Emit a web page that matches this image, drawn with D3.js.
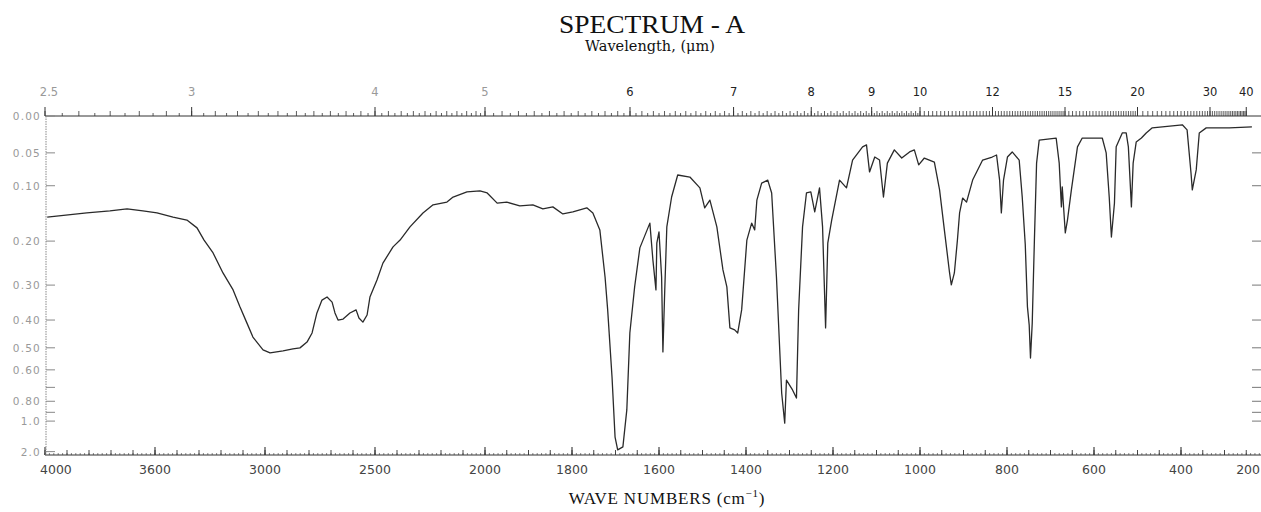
<!DOCTYPE html>
<html>
<head>
<meta charset="utf-8">
<script src="https://cdn.jsdelivr.net/npm/d3@7"></script>
<style>
  html, body { margin: 0; padding: 0; background: #fff; }
  svg { display: block; }
</style>
</head>
<body>
<svg width="1261" height="512"></svg>
<script>
// spectrum: wave number (cm-1) and transmittance (%)
const wave_numbers = [3990,3810,3705,3627,3555,3491,3418,3355,3309,3277,
  3236,3191,3145,3114,3082,3055,3009,2977,2918,2873,
  2841,2809,2786,2764,2741,2718,2695,2682,2668,2645,
  2614,2586,2573,2555,2536,2523,2491,2464,2418,2386,
  2341,2282,2236,2173,2145,2082,2023,1995,1972,1950,
  1920,1890,1867,1844,1821,1798,1766,1752,
  1736,1724,1718,1708,1701,1695,1683,1674,1667,1656,
  1644,1621,1614,1607,1605,1600,1594,1591,1587,1582,
  1571,1557,1529,1506,1495,1483,1467,1453,1444,1437,
  1426,1419,1410,1398,1387,1380,1375,1364,1350,1341,
  1330,1318,1311,1307,1293,1284,1279,1270,1261,1251,
  1242,1231,1224,1217,1212,1203,1185,1169,1155,
  1132,1123,1116,1104,1093,1084,1075,1059,1042,1024,1013,
  1003,990,967,955,944,932,928,921,914,909,
  902,893,879,856,834,824,817,813,808,799,
  788,772,765,758,753,749,746,742,739,737,
  732,726,687,680,675,673,666,661,652,638,
  627,581,572,565,560,553,549,535,526,521,
  514,510,503,491,480,466,443,397,386,377,
  374,365,358,342,289,237];
const transmittance = [70.2,71.4,72.0,72.6,72.0,71.4,70.2,69.3,67.0,63.4,
  59.6,53.7,48.7,43.7,38.9,34.8,31.0,30.1,30.7,31.3,
  31.6,33.3,36.0,41.9,45.7,46.6,45.1,41.9,39.8,40.1,
  41.9,42.8,40.4,39.2,41.3,46.6,51.6,56.6,61.4,63.4,
  67.3,71.4,73.8,74.6,76.1,77.6,77.9,77.3,74.3,74.6,
  73.5,73.8,72.6,73.2,71.1,71.7,72.9,71.4,
  66.4,52.5,42.8,23.0,5.3,1.5,2.4,13.3,36.0,49.6,
  61.1,68.4,57.5,48.7,62.5,65.8,52.5,30.4,47.8,67.3,
  76.1,82.6,82.0,78.8,72.9,75.2,67.3,54.6,49.6,37.5,
  36.9,36.0,42.8,63.4,68.4,66.4,75.2,80.2,81.1,77.3,
  52.5,18.3,9.4,22.1,19.2,16.8,42.8,67.3,77.3,77.6,
  71.7,78.8,67.3,37.5,62.5,69.3,81.1,78.8,87.0,
  90.9,91.5,83.5,87.9,87.0,76.1,86.1,90.0,87.6,89.4,90.0,
  85.6,87.6,86.4,78.2,66.4,53.7,50.2,53.7,63.4,71.4,
  75.8,74.6,81.1,87.0,87.9,88.5,81.1,71.4,81.1,87.9,
  89.4,87.0,76.1,62.0,43.7,38.4,28.6,38.9,53.7,63.4,
  86.1,92.9,93.5,86.1,73.2,79.1,65.5,69.3,78.2,90.9,
  93.5,93.5,89.1,76.1,64.3,74.3,90.9,95.0,95.0,90.9,
  73.2,86.1,92.3,93.5,95.0,96.5,96.8,97.4,95.9,83.2,
  78.2,84.1,95.0,96.5,96.5,96.8];

// axes
const wn_ticks = [4000, 3500, 3000, 2500, 2000, 1800, 1600, 1400, 1200, 1000, 800, 600, 400, 200];
const wn_labels = ["4000", "3600", "3000", "2500", "2000", "1800", "1600", "1400", "1200", "1000", "800", "600", "400", "200"];
const um_ticks = [2.5, 3, 4, 5, 6, 7, 8, 9, 10, 12, 15, 20, 30, 40];
const um_labels = ["2.5", "3", "4", "5", "6", "7", "8", "9", "10", "12", "15", "20", "30", "40"];
const abs_ticks = [0, 0.05, 0.10, 0.20, 0.30, 0.40, 0.50, 0.60, 0.80, 1.0, 2.0];
const abs_labels = ["0.00", "0.05", "0.10", "0.20", "0.30", "0.40", "0.50", "0.60", "0.80", "1.0", "2.0"];
const abs_minor = [0.70, 0.90];
const abs_right = [0.05, 0.10, 0.20, 0.30, 0.40, 0.50, 0.60, 0.70, 0.80, 0.90, 1.0];

const svg = d3.select("svg");

// chart paper: 4000-2000 at half scale, 2000-200 expanded
const x = d3.scaleLinear().domain([4000, 2000, 200]).range([45, 485, 1268]);
const y = d3.scaleLinear().domain([0, 100]).range([455, 116]);
const y_abs = a => y(100 * Math.pow(10, -a));
const x_um = um => x(10000 / um);

// titles
svg.append("text")
  .attr("x", 652).attr("y", 33)
  .attr("text-anchor", "middle")
  .attr("font-family", "Liberation Serif, serif")
  .attr("font-size", 25)
  .attr("textLength", 186).attr("lengthAdjust", "spacingAndGlyphs")
  .attr("fill", "#111")
  .text("SPECTRUM - A");
svg.append("text")
  .attr("x", 650).attr("y", 51)
  .attr("text-anchor", "middle")
  .attr("font-family", "DejaVu Serif, serif")
  .attr("font-size", 14.5)
  .attr("fill", "#111")
  .text("Wavelength, (\u03bcm)");

const xlab = svg.append("text")
  .attr("x", 667).attr("y", 504)
  .attr("text-anchor", "middle")
  .attr("font-family", "Liberation Serif, serif")
  .attr("font-size", 17)
  .attr("letter-spacing", 0.8)
  .attr("fill", "#111");
xlab.append("tspan").text("WAVE NUMBERS  (cm");
xlab.append("tspan").attr("font-size", 11).attr("dy", -7).text("\u22121");
xlab.append("tspan").attr("dy", 7).text(")");

// top axis (wavelength)
const um_minor = [].concat(
  d3.range(2.5, 10, 0.05),
  d3.range(10, 15, 0.1),
  d3.range(15, 20, 0.2),
  d3.range(20, 40.01, 0.5)
);
const top_axis = svg.append("g").attr("stroke", "#333");
top_axis.append("line")
  .attr("x1", 45).attr("x2", 1261)
  .attr("y1", y(100)).attr("y2", y(100))
  .attr("stroke-width", 1);
top_axis.selectAll("line.minor")
  .data(um_minor)
  .join("line")
    .attr("class", "minor")
    .attr("x1", d => x_um(d)).attr("x2", d => x_um(d))
    .attr("y1", y(100))
    .attr("y2", d => y(100) - (Math.abs(d * 10 - Math.round(d * 10)) < 1e-6 ? 5 : 3))
    .attr("stroke-width", 0.8);
top_axis.selectAll("line.major")
  .data(um_ticks)
  .join("line")
    .attr("class", "major")
    .attr("x1", d => x_um(d)).attr("x2", d => x_um(d))
    .attr("y1", y(100)).attr("y2", y(100) - 9)
    .attr("stroke-width", 1);
svg.append("g")
  .selectAll("text")
  .data(um_ticks)
  .join("text")
    .attr("x", d => x_um(d) + (d === 2.5 ? 4 : 0))
    .attr("y", 96)
    .attr("text-anchor", "middle")
    .attr("font-family", "DejaVu Sans, sans-serif")
    .attr("font-size", 11.5)
    .attr("fill", d => d <= 5 ? "#999" : "#222")
    .text((d, i) => um_labels[i]);

// bottom axis (wave numbers)
const wn_minor = [].concat(d3.range(4000, 2000, -100), d3.range(2000, 199, -50));
const wn_fine = [].concat(d3.range(4000, 2000, -20), d3.range(2000, 199, -10));
const bottom_axis = svg.append("g").attr("stroke", "#333");
bottom_axis.append("line")
  .attr("x1", 45).attr("x2", 1261)
  .attr("y1", y(0)).attr("y2", y(0))
  .attr("stroke-width", 1.2);
bottom_axis.selectAll("line.fine")
  .data(wn_fine)
  .join("line")
    .attr("class", "fine")
    .attr("x1", d => x(d)).attr("x2", d => x(d))
    .attr("y1", y(0)).attr("y2", y(0) - 2)
    .attr("stroke-width", 0.6);
bottom_axis.selectAll("line.minor")
  .data(wn_minor)
  .join("line")
    .attr("class", "minor")
    .attr("x1", d => x(d)).attr("x2", d => x(d))
    .attr("y1", y(0)).attr("y2", y(0) - 5)
    .attr("stroke-width", 0.9);
bottom_axis.selectAll("line.major")
  .data(wn_ticks)
  .join("line")
    .attr("class", "major")
    .attr("x1", d => x(d)).attr("x2", d => x(d))
    .attr("y1", y(0)).attr("y2", y(0) - 8)
    .attr("stroke-width", 1.1);
svg.append("g")
  .selectAll("text")
  .data(wn_ticks)
  .join("text")
    .attr("x", d => d === 4000 ? x(d) - 5 : d === 200 ? 1260 : x(d))
    .attr("y", 474)
    .attr("text-anchor", d => d === 4000 ? "start" : d === 200 ? "end" : "middle")
    .attr("font-family", "DejaVu Sans, sans-serif")
    .attr("font-size", 12.5)
    .attr("fill", "#444")
    .text((d, i) => wn_labels[i]);

// left absorbance scale
const left_axis = svg.append("g").attr("stroke", "#888");
left_axis.append("line")
  .attr("x1", 46).attr("x2", 46)
  .attr("y1", y(100)).attr("y2", y(0))
  .attr("stroke-width", 1)
  .attr("stroke-dasharray", "1.5,1");
left_axis.selectAll("line.tick")
  .data(abs_ticks.concat(abs_minor))
  .join("line")
    .attr("class", "tick")
    .attr("x1", 46).attr("x2", 55)
    .attr("y1", d => y_abs(d)).attr("y2", d => y_abs(d))
    .attr("stroke-width", 1);
svg.append("g")
  .selectAll("text")
  .data(abs_ticks)
  .join("text")
    .attr("x", 41)
    .attr("y", d => y_abs(d) + 4)
    .attr("text-anchor", "end")
    .attr("font-family", "DejaVu Sans, sans-serif")
    .attr("font-size", 10.5)
    .attr("letter-spacing", 1.2)
    .attr("fill", "#999")
    .text((d, i) => abs_labels[i]);

// right absorbance ticks
svg.append("g")
  .attr("stroke", "#777")
  .selectAll("line")
  .data(abs_right)
  .join("line")
    .attr("x1", 1252).attr("x2", 1261)
    .attr("y1", d => y_abs(d)).attr("y2", d => y_abs(d))
    .attr("stroke-width", 1);

// spectrum trace
const points = wave_numbers.map((w, i) => ({ w: w, t: transmittance[i] }));
svg.append("path")
  .datum(points)
  .attr("fill", "none")
  .attr("stroke", "#2a2a2a")
  .attr("stroke-width", 1.3)
  .attr("stroke-linejoin", "round")
  .attr("d", d3.line()
    .x(d => x(d.w))
    .y(d => y(d.t))
  );
</script>
</body>
</html>
